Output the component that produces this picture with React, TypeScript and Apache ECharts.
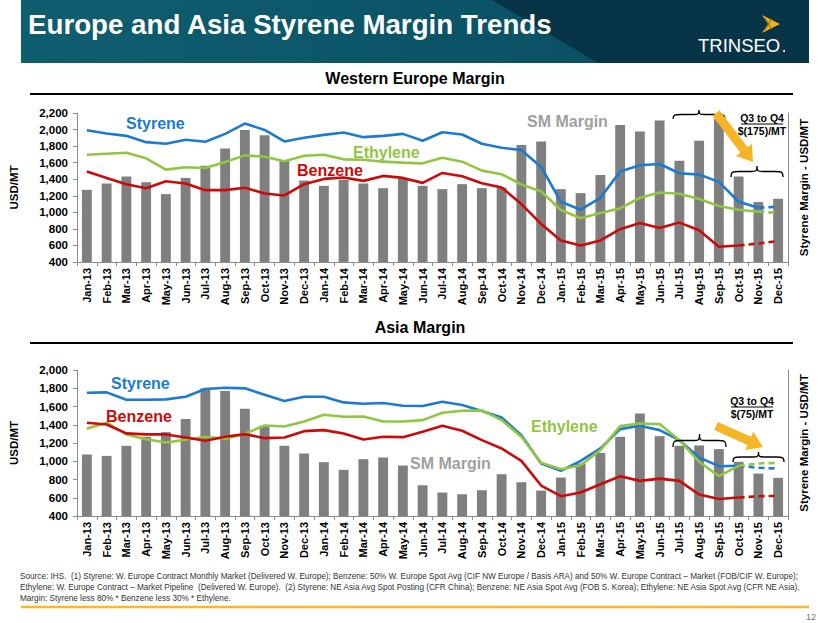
import React, { useEffect, useRef } from "react";
import * as echarts from "echarts";

const months = [
  "Jan-13", "Feb-13", "Mar-13", "Apr-13", "May-13", "Jun-13", "Jul-13", "Aug-13", "Sep-13", "Oct-13", "Nov-13", "Dec-13",
  "Jan-14", "Feb-14", "Mar-14", "Apr-14", "May-14", "Jun-14", "Jul-14", "Aug-14", "Sep-14", "Oct-14", "Nov-14", "Dec-14",
  "Jan-15", "Feb-15", "Mar-15", "Apr-15", "May-15", "Jun-15", "Jul-15", "Aug-15", "Sep-15", "Oct-15", "Nov-15", "Dec-15",
];

// Western Europe (USD/MT)
const euStyrene = [1992, 1952, 1924, 1848, 1828, 1876, 1852, 1948, 2072, 1996, 1856, 1900, 1936, 1964, 1908, 1924, 1948, 1864, 1968, 1940, 1828, 1780, 1752, 1548, 1128, 1032, 1176, 1492, 1568, 1584, 1472, 1456, 1368, 1128, 1056, 1068];
const euEthylene = [1696, 1708, 1720, 1652, 1516, 1544, 1536, 1608, 1688, 1672, 1616, 1684, 1696, 1640, 1636, 1612, 1600, 1592, 1660, 1612, 1504, 1460, 1336, 1252, 1028, 928, 992, 1048, 1176, 1240, 1224, 1160, 1076, 1032, 1008, 992];
const euBenzene = [1492, 1416, 1340, 1292, 1376, 1348, 1268, 1268, 1296, 1228, 1204, 1340, 1404, 1420, 1380, 1440, 1416, 1356, 1476, 1436, 1352, 1300, 1100, 860, 660, 600, 660, 796, 872, 812, 876, 784, 584, 600, 624, 652];
const euMargin = [1272, 1348, 1432, 1364, 1220, 1416, 1564, 1772, 1996, 1932, 1620, 1384, 1320, 1392, 1348, 1292, 1412, 1320, 1280, 1340, 1292, 1300, 1812, 1856, 1280, 1232, 1452, 2056, 1976, 2108, 1624, 1864, 2132, 1432, 1124, 1164];

// Asia (USD/MT)
const asStyrene = [1751, 1755, 1674, 1674, 1678, 1707, 1791, 1806, 1799, 1729, 1660, 1707, 1707, 1645, 1630, 1638, 1608, 1605, 1652, 1616, 1550, 1480, 1286, 975, 895, 1004, 1140, 1352, 1389, 1341, 1231, 1041, 946, 950, 928, 920];
const asEthylene = [1356, 1422, 1294, 1242, 1206, 1235, 1268, 1246, 1301, 1392, 1381, 1436, 1510, 1488, 1491, 1436, 1436, 1451, 1531, 1553, 1557, 1451, 1268, 983, 913, 957, 1122, 1385, 1414, 1407, 1231, 994, 836, 950, 975, 983];
const asBenzene = [1422, 1403, 1305, 1294, 1294, 1261, 1224, 1268, 1297, 1253, 1261, 1330, 1341, 1305, 1239, 1268, 1264, 1323, 1389, 1334, 1231, 1140, 1004, 734, 617, 657, 748, 836, 785, 810, 785, 635, 587, 602, 617, 620];
const asMargin = [1074, 1059, 1169, 1268, 1319, 1462, 1799, 1769, 1575, 1389, 1169, 1085, 990, 906, 1023, 1041, 953, 737, 657, 638, 682, 858, 770, 679, 821, 975, 1092, 1268, 1524, 1275, 1169, 1173, 1133, 994, 865, 818];

const FONT = "'Liberation Sans', Arial, sans-serif";
const BLUE = "#1c7bd0";
const GREEN = "#92c540";
const RED = "#cc0a0a";
const BAR = "#7f7f7f";
const AXIS = "#8c8c8c";
const YELLOW = "#f4b526";

function braceD(x1: number, x2: number, yTop: number, yBot: number) {
  const mid = (x1 + x2) / 2;
  const ym = (yTop + yBot) / 2;
  return `M${x1},${yBot} C${x1},${ym} ${x1 + 2},${ym} ${x1 + 8},${ym} L${mid - 6},${ym} C${mid - 1},${ym} ${mid},${ym} ${mid},${yTop} C${mid},${ym} ${mid + 1},${ym} ${mid + 6},${ym} L${x2 - 8},${ym} C${x2 - 2},${ym} ${x2},${ym} ${x2},${yBot}`;
}

let registered = false;
function registerShapes() {
  if (registered) return;
  registered = true;
  echarts.graphic.registerShape("braceA", echarts.graphic.extendPath(braceD(673, 725, 110, 119), {}));
  echarts.graphic.registerShape("braceB", echarts.graphic.extendPath(braceD(731, 783, 166, 177), {}));
  echarts.graphic.registerShape("braceC", echarts.graphic.extendPath(braceD(673, 726, 434, 447), {}));
  echarts.graphic.registerShape("braceD", echarts.graphic.extendPath(braceD(733, 784, 452, 462), {}));
}

function arrowPoints(x1: number, y1: number, x2: number, y2: number, sw: number, hw: number, hl: number) {
  const dx = x2 - x1, dy = y2 - y1;
  const len = Math.sqrt(dx * dx + dy * dy);
  const ux = dx / len, uy = dy / len;
  const nx = -uy, ny = ux;
  const bx = x2 - ux * hl, by = y2 - uy * hl;
  return [
    [x1 + nx * sw, y1 + ny * sw],
    [bx + nx * sw, by + ny * sw],
    [bx + nx * hw, by + ny * hw],
    [x2, y2],
    [bx - nx * hw, by - ny * hw],
    [bx - nx * sw, by - ny * sw],
    [x1 - nx * sw, y1 - ny * sw],
  ];
}

function splitSeries(name: string, values: number[], k: number, color: string, xi: number, yi: number) {
  const solid = values.map((v, i) => (i <= k ? v : null));
  const dashed = values.map((v, i) => (i >= k ? v : null));
  const base = {
    type: "line",
    xAxisIndex: xi,
    yAxisIndex: yi,
    symbol: "none",
    z: 5,
  };
  return [
    { ...base, name, data: solid, lineStyle: { color, width: 2.6 } },
    { ...base, name: name + " (est.)", data: dashed, lineStyle: { color, width: 2.6, type: [6, 4] } },
  ];
}

function txt(text: string, x: number, y: number, size: number, color: string, opts: any = {}) {
  return {
    type: "text",
    x,
    y,
    rotation: opts.rotation || 0,
    z: 20,
    style: {
      text,
      fill: color,
      font: `${opts.weight || "bold"} ${size}px ${FONT}`,
      textAlign: opts.align || "left",
      textVerticalAlign: "middle",
    },
  };
}

const fmt = (v: number) => v.toLocaleString("en-US");

function xAxisCfg(gridIndex: number) {
  return {
    type: "category",
    gridIndex,
    data: months,
    boundaryGap: true,
    axisLine: { lineStyle: { color: AXIS, width: 1 } },
    axisTick: { show: true, interval: 0, length: 4, lineStyle: { color: AXIS } },
    axisLabel: { interval: 0, rotate: 90, color: "#000", fontWeight: "bold", fontSize: 11, fontFamily: FONT, margin: 6 },
  };
}

function yLeft(gridIndex: number, max: number) {
  return {
    type: "value",
    gridIndex,
    min: 400,
    max,
    interval: 200,
    position: "left",
    name: "USD/MT",
    nameLocation: "middle",
    nameRotate: 90,
    nameGap: 57,
    nameTextStyle: { color: "#000", fontWeight: "bold", fontSize: 11.5, fontFamily: FONT },
    splitLine: { show: false },
    axisLine: { show: true, lineStyle: { color: AXIS } },
    axisTick: { show: true, length: 4, lineStyle: { color: AXIS } },
    axisLabel: { color: "#000", fontWeight: "bold", fontSize: 11.5, fontFamily: FONT, formatter: fmt, margin: 9 },
  };
}

function yRight(gridIndex: number, max: number) {
  return {
    type: "value",
    gridIndex,
    min: 400,
    max,
    interval: 200,
    position: "right",
    name: "Styrene Margin - USD/MT",
    nameLocation: "middle",
    nameRotate: 90,
    nameGap: 10,
    nameTextStyle: { color: "#000", fontWeight: "bold", fontSize: 11.5, fontFamily: FONT },
    splitLine: { show: false },
    axisLine: { show: true, lineStyle: { color: AXIS } },
    axisTick: { show: false },
    axisLabel: { show: false },
  };
}

const footnote1 = "Source: IHS.  (1) Styrene: W. Europe Contract Monthly Market (Delivered W. Europe); Benzene: 50% W. Europe Spot Avg (CIF NW Europe / Basis ARA) and 50% W. Europe Contract \u2013 Market (FOB/CIF W. Europe);";
const footnote2 = "Ethylene: W. Europe Contract \u2013 Market Pipeline  (Delivered W. Europe).  (2) Styrene: NE Asia Avg Spot Posting (CFR China); Benzene: NE Asia Spot Avg (FOB S. Korea); Ethylene: NE Asia Spot Avg (CFR NE Asia).";
const footnote3 = "Margin: Styrene less 80% * Benzene less 30% * Ethylene.";

export default function App() {
  const ref = useRef<HTMLDivElement>(null);
  useEffect(() => {
    registerShapes();
    const chart = echarts.init(ref.current!, null, { renderer: "svg" });
    const option: any = {
      animation: false,
      backgroundColor: "#fff",
      grid: [
        { left: 71, top: 113, width: 717, height: 149 },
        { left: 70, top: 370, width: 718, height: 146 },
      ],
      xAxis: [xAxisCfg(0), xAxisCfg(1)],
      yAxis: [yLeft(0, 2200), yRight(0, 2200), yLeft(1, 2000), yRight(1, 2000)],
      series: [
        { type: "bar", name: "SM Margin", xAxisIndex: 0, yAxisIndex: 1, data: euMargin, barWidth: "50%", itemStyle: { color: BAR }, z: 2 },
        ...splitSeries("Styrene", euStyrene, 34, BLUE, 0, 0),
        ...splitSeries("Ethylene", euEthylene, 34, GREEN, 0, 0),
        ...splitSeries("Benzene", euBenzene, 33, RED, 0, 0),
        { type: "bar", name: "SM Margin", xAxisIndex: 1, yAxisIndex: 3, data: asMargin, barWidth: "50%", itemStyle: { color: BAR }, z: 2 },
        ...splitSeries("Styrene", asStyrene, 33, BLUE, 1, 2),
        ...splitSeries("Ethylene", asEthylene, 33, GREEN, 1, 2),
        ...splitSeries("Benzene", asBenzene, 33, RED, 1, 2),
      ],
      graphic: [
        // banner
        {
          type: "rect",
          shape: { x: 21, y: 0, width: 788, height: 63 },
          style: {
            fill: new echarts.graphic.LinearGradient(0, 0, 1, 0, [
              { offset: 0, color: "#0f5e70" },
              { offset: 0.6, color: "#0b5366" },
              { offset: 1, color: "#0a4a5c" },
            ]),
          },
          z: 1,
        },
        {
          type: "polygon",
          shape: { points: [[492, 0], [809, 0], [809, 63], [598, 63]] },
          style: { fill: "#073446" },
          z: 2,
        },
        txt("Europe and Asia Styrene Margin Trends", 28, 24, 27.7, "#ffffff"),
        txt("TRINSEO", 698, 45, 18.5, "#ffffff", { weight: "normal" }),
        { type: "circle", shape: { cx: 784, cy: 51, r: 1 }, style: { fill: "#fff" }, z: 20 },
        {
          type: "polygon",
          shape: { points: [[762, 15], [780, 24], [762, 33], [768, 24]] },
          style: { fill: "#f2b01e" },
          z: 20,
        },
        {
          type: "polyline",
          shape: { points: [[765, 18], [772, 30]] },
          style: { stroke: "#7a6a20", lineWidth: 1 },
          z: 21,
        },
        {
          type: "polyline",
          shape: { points: [[765, 30], [772, 18]] },
          style: { stroke: "#7a6a20", lineWidth: 1 },
          z: 21,
        },
        // section titles & rules
        txt("Western Europe Margin", 415, 78, 16, "#000", { align: "center" }),
        { type: "line", shape: { x1: 30, y1: 94, x2: 793, y2: 94 }, style: { stroke: "#000", lineWidth: 2 }, z: 10 },
        txt("Asia Margin", 420, 327, 16, "#000", { align: "center" }),
        { type: "line", shape: { x1: 30, y1: 343, x2: 793, y2: 343 }, style: { stroke: "#000", lineWidth: 2 }, z: 10 },
        // series labels top
        txt("Styrene", 126, 123, 16, BLUE),
        txt("Ethylene", 353, 152, 16, GREEN),
        txt("Benzene", 297, 170, 16, RED),
        txt("SM Margin", 527, 121, 16, "#a0a0a0"),
        // series labels bottom
        txt("Styrene", 111, 383, 16, BLUE),
        txt("Benzene", 106, 416, 16, RED),
        txt("Ethylene", 531, 426, 16, GREEN),
        txt("SM Margin", 410, 463, 16, "#a0a0a0"),
        // braces
        { type: "braceA", style: { fill: "none", stroke: "#000", lineWidth: 1.3 }, z: 15 },
        { type: "braceB", style: { fill: "none", stroke: "#000", lineWidth: 1.3 }, z: 15 },
        { type: "braceC", style: { fill: "none", stroke: "#000", lineWidth: 1.3 }, z: 15 },
        { type: "braceD", style: { fill: "none", stroke: "#000", lineWidth: 1.3 }, z: 15 },
        // arrows
        { type: "polygon", shape: { points: arrowPoints(716, 113, 753, 162, 4.5, 10, 15) }, style: { fill: YELLOW }, z: 15 },
        { type: "polygon", shape: { points: arrowPoints(716, 426, 763, 447, 4.5, 10, 15) }, style: { fill: YELLOW }, z: 15 },
        // Q3 to Q4 annotations
        txt("Q3 to Q4", 762, 118, 10.5, "#000", { align: "center" }),
        { type: "line", shape: { x1: 741, y1: 124, x2: 783, y2: 124 }, style: { stroke: "#000", lineWidth: 1 }, z: 20 },
        txt("$(175)/MT", 762, 131, 10.5, "#000", { align: "center" }),
        txt("Q3 to Q4", 752, 401, 10.5, "#000", { align: "center" }),
        { type: "line", shape: { x1: 731, y1: 407, x2: 773, y2: 407 }, style: { stroke: "#000", lineWidth: 1 }, z: 20 },
        txt("$(75)/MT", 752, 414, 10.5, "#000", { align: "center" }),
        // footnotes
        txt(footnote1, 20, 576, 8.2, "#333", { weight: "normal" }),
        txt(footnote2, 20, 587, 8.2, "#333", { weight: "normal" }),
        txt(footnote3, 20, 598, 8.2, "#333", { weight: "normal" }),
        { type: "line", shape: { x1: 21, y1: 607, x2: 809, y2: 607 }, style: { stroke: "#f7b927", lineWidth: 2.5 }, z: 10 },
        txt("12", 816, 617, 9, "#777", { weight: "normal", align: "right" }),
      ],
    };
    chart.setOption(option);
    return () => chart.dispose();
  }, []);
  return <div ref={ref} style={{ position: "absolute", left: 0, top: 0, width: 830, height: 623 }} />;
}
